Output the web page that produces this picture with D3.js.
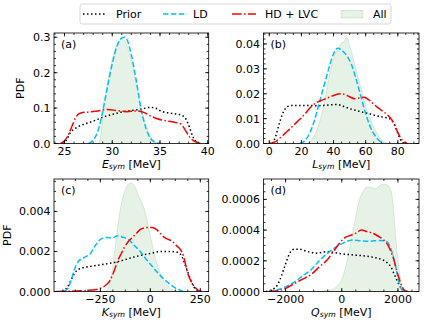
<!DOCTYPE html>
<html><head><meta charset="utf-8">
<script src="https://cdn.jsdelivr.net/npm/d3@7"></script>
<style>body{margin:0;background:#fff}svg{display:block;font-family:"DejaVu Sans",sans-serif}</style>
</head><body><svg id="c" width="432" height="324"></svg>
<script>
// ---------- DATA ----------
const seriesNames = ["Prior", "LD", "HD + LVC", "All"];
// Panel (a) E_sym
const esymPrior = [[24.8,0],[25.2,0.01],[25.6,0.03],[26.2,0.044],[27,0.054],[28,0.063],[29,0.074],[30,0.082],[31,0.089],[32,0.093],[33,0.097],[34,0.102],[34.5,0.1],[35,0.093],[35.5,0.088],[36,0.086],[36.5,0.084],[37,0.082],[37.4,0.078],[37.8,0.065],[38.1,0.045],[38.4,0.022],[38.7,0.008],[39.1,0]];
const esymLD = [[27.5,0],[28,0.01],[28.5,0.035],[29,0.09],[29.5,0.16],[30,0.225],[30.5,0.275],[31,0.298],[31.3,0.3],[31.6,0.29],[32,0.25],[32.5,0.18],[33,0.1],[33.5,0.045],[34,0.015],[34.5,0.003],[35,0]];
const esymHD = [[24.6,0],[25,0.008],[25.4,0.025],[25.8,0.05],[26.2,0.075],[26.7,0.086],[27.5,0.089],[28.5,0.092],[29.5,0.096],[30.5,0.093],[31.5,0.09],[32.5,0.092],[33.3,0.088],[34,0.078],[34.7,0.07],[35.5,0.065],[36.5,0.06],[37.2,0.055],[37.6,0.04],[38,0.022],[38.5,0.008],[39,0.002],[39.4,0]];
const esymAll = [[28.6,0],[28.9,0.05],[29.05,0.1],[29.35,0.15],[29.7,0.2],[30.1,0.25],[30.5,0.28],[31,0.294],[31.3,0.29],[31.7,0.265],[32,0.235],[32.5,0.17],[33,0.105],[33.5,0.055],[34,0.02],[34.5,0.005],[35,0]];
// Panel (b) L_sym
const lsymPrior = [[2,0],[4,0.003],[6,0.0075],[8,0.0115],[10,0.014],[12,0.015],[14,0.0153],[20,0.0153],[30,0.0152],[38,0.0155],[42,0.0157],[46,0.015],[50,0.014],[54,0.0133],[58,0.0126],[62,0.012],[66,0.0113],[70,0.0107],[74,0.0102],[76,0.0095],[78,0.0075],[80,0.004],[82,0.0012],[84,0]];
const lsymLD = [[19,0],[22,0.001],[25,0.004],[28,0.009],[31,0.016],[34,0.023],[37,0.03],[40,0.036],[42.5,0.0383],[45,0.0375],[48,0.0355],[51,0.032],[54,0.026],[57,0.019],[60,0.012],[63,0.0065],[66,0.003],[69,0.0008],[71,0]];
const lsymHD = [[0,0],[3,0.0005],[5,0.0013],[8,0.003],[11,0.0048],[14,0.0066],[17,0.0085],[20,0.0104],[23,0.0125],[26,0.0148],[29,0.0163],[32,0.0172],[35,0.018],[38,0.0188],[41,0.0195],[44,0.02],[47,0.0197],[50,0.0188],[53,0.018],[56,0.0183],[59,0.0186],[62,0.0175],[65,0.0158],[68,0.0142],[71,0.0128],[74,0.0112],[76,0.0098],[78,0.0075],[80,0.0045],[82,0.002],[84,0.0006],[86,0]];
const lsymAll = [[24,0],[27,0.002],[30,0.006],[33,0.013],[35,0.019],[37,0.026],[39,0.032],[41,0.036],[43,0.038],[45,0.0405],[46.5,0.041],[48,0.0425],[49,0.042],[50,0.0395],[52,0.035],[54,0.0295],[56,0.025],[58,0.02],[60,0.0155],[62,0.0115],[64,0.008],[66,0.0055],[68,0.0032],[70,0.0015],[72,0.0005],[74,0]];
// Panel (c) K_sym
const ksymPrior = [[-440,0],[-425,0.0001],[-410,0.0003],[-395,0.0006],[-380,0.0009],[-360,0.0011],[-330,0.0012],[-290,0.00127],[-250,0.00133],[-210,0.0014],[-170,0.00147],[-130,0.00158],[-90,0.0017],[-50,0.0018],[0,0.0019],[50,0.002],[100,0.002],[140,0.00195],[160,0.0017],[175,0.0013],[190,0.0009],[205,0.0005],[220,0.0002],[235,0.00005],[250,0]];
const ksymLD = [[-430,0],[-410,0.0002],[-395,0.0006],[-380,0.0011],[-360,0.0015],[-330,0.0017],[-300,0.0019],[-275,0.0023],[-250,0.0026],[-220,0.0027],[-190,0.00268],[-165,0.00278],[-140,0.00272],[-110,0.0026],[-80,0.0023],[-50,0.002],[-20,0.0016],[10,0.00125],[40,0.0009],[70,0.0006],[100,0.00035],[130,0.00015],[160,0.00003],[180,0]];
const ksymHD = [[-470,0],[-400,0.00002],[-320,0.00005],[-270,0.0001],[-245,0.00018],[-225,0.0003],[-205,0.0005],[-190,0.0008],[-175,0.0012],[-160,0.0016],[-145,0.0019],[-130,0.0022],[-110,0.0025],[-90,0.0027],[-70,0.0029],[-50,0.0031],[-30,0.00318],[-10,0.0032],[10,0.0032],[30,0.0031],[50,0.0029],[70,0.0027],[90,0.0026],[110,0.0025],[130,0.0023],[150,0.0021],[165,0.0018],[175,0.0014],[185,0.001],[195,0.0007],[210,0.0004],[225,0.0002],[240,0.00006],[260,0]];
const ksymAll = [[-225,0],[-210,0.0002],[-195,0.0008],[-180,0.0019],[-165,0.0031],[-150,0.0041],[-135,0.0048],[-120,0.0052],[-105,0.0054],[-90,0.0054],[-75,0.0052],[-60,0.0048],[-45,0.0045],[-30,0.0041],[-15,0.0035],[0,0.0028],[15,0.0021],[30,0.0015],[50,0.0009],[70,0.0005],[90,0.00025],[110,0.0001],[130,0.00003],[150,0]];
// Panel (d) Q_sym
const qsymPrior = [[-2700,0],[-2500,0.00001],[-2300,0.00004],[-2150,0.0001],[-2000,0.00018],[-1850,0.00025],[-1700,0.000275],[-1500,0.000275],[-1300,0.000265],[-1100,0.000255],[-900,0.00025],[-700,0.000255],[-500,0.00026],[-300,0.000255],[0,0.000245],[300,0.00024],[600,0.000235],[900,0.00023],[1200,0.00022],[1400,0.00021],[1600,0.00019],[1750,0.00016],[1850,0.00012],[1950,0.00008],[2050,0.00004],[2200,0.00001],[2350,0]];
const qsymLD = [[-2600,0],[-2300,0.00001],[-2000,0.00003],[-1700,0.00006],[-1400,0.0001],[-1100,0.00014],[-800,0.0002],[-500,0.00025],[-200,0.00029],[100,0.00032],[400,0.000335],[700,0.00033],[1000,0.000328],[1300,0.000332],[1550,0.00033],[1700,0.0003],[1800,0.00025],[1900,0.00018],[1970,0.00012],[2050,0.00005],[2150,0.00001],[2250,0]];
const qsymHD = [[-2600,0],[-2300,0.000005],[-2000,0.00002],[-1700,0.00005],[-1400,0.00008],[-1100,0.00011],[-800,0.00016],[-500,0.00021],[-300,0.00026],[-100,0.00031],[100,0.00035],[300,0.000365],[500,0.00038],[700,0.0004],[900,0.00039],[1100,0.00038],[1300,0.00036],[1500,0.000335],[1650,0.0003],[1750,0.00026],[1850,0.00021],[1950,0.00014],[2050,0.00008],[2150,0.00003],[2250,0.000005],[2350,0]];
const qsymAll = [[-900,0],[-600,0.000005],[-400,0.00001],[-200,0.00003],[0,0.00008],[150,0.00017],[300,0.0003],[450,0.00044],[600,0.00058],[750,0.00065],[900,0.00068],[1050,0.00068],[1200,0.00067],[1350,0.00069],[1500,0.0007],[1650,0.00069],[1750,0.00066],[1820,0.00058],[1880,0.00045],[1950,0.0003],[2030,0.00016],[2100,0.00007],[2200,0.00001],[2250,0]];
// Tick labels
const esymTicks = [25, 30, 35, 40];
const lsymTicks = [0, 20, 40, 60, 80];
const ksymTicks = [-250, 0, 250];
const qsymTicks = [-2000, 0, 2000];
const pdfTicksA = [0, 0.1, 0.2, 0.3];
const pdfTicksB = [0, 0.01, 0.02, 0.03, 0.04];
const pdfTicksC = [0, 0.002, 0.004];
const pdfTicksD = [0, 0.0002, 0.0004, 0.0006];
const panelLabels = ["(a)", "(b)", "(c)", "(d)"];
const axisSymbols = [["E","sym"],["L","sym"],["K","sym"],["Q","sym"]];

// ---------- LAYOUT ----------
const svg = d3.select("#c");
const colors = {prior:"#000000", ld:"#00bfff", hd:"#ff0000", allFill:"rgba(0,128,0,0.1)"};
const FS = 11;
const panels = [
  {x0:54, x1:208.7, y0:33, y1:143.5, xd:[23.9,40.1], yd:[0,0.312], xt:esymTicks, xm:1, yt:pdfTicksA, ym:0.02, yf:1, data:[esymPrior,esymLD,esymHD,esymAll], ylab:true},
  {x0:263.5, x1:419, y0:33, y1:143.5, xd:[-3.6,93.2], yd:[0,0.0444], xt:lsymTicks, xm:5, yt:pdfTicksB, ym:0.002, yf:2, data:[lsymPrior,lsymLD,lsymHD,lsymAll], ylab:false},
  {x0:54, x1:208.7, y0:179, y1:291.5, xd:[-482,292], yd:[0,0.00562], xt:ksymTicks, xm:62.5, yt:pdfTicksC, ym:0.0005, yf:3, data:[ksymPrior,ksymLD,ksymHD,ksymAll], ylab:true},
  {x0:263.5, x1:419, y0:179, y1:291.5, xd:[-2786,2750], yd:[0,0.000733], xt:qsymTicks, xm:500, yt:pdfTicksD, ym:0.00005, yf:4, data:[qsymPrior,qsymLD,qsymHD,qsymAll], ylab:false}
];
const fmtNum = v => (v<0 ? "\u2212" + Math.abs(v) : String(v));

panels.forEach((p, i) => {
  const x = d3.scaleLinear().domain(p.xd).range([p.x0, p.x1]);
  const y = d3.scaleLinear().domain(p.yd).range([p.y1, p.y0]);
  const g = svg.append("g");
  const clipId = "clip" + i;
  g.append("clipPath").attr("id", clipId).append("rect")
    .attr("x", p.x0).attr("y", p.y0).attr("width", p.x1 - p.x0).attr("height", p.y1 - p.y0);
  const plot = g.append("g").attr("clip-path", `url(#${clipId})`);
  const line = d3.line().x(d => x(d[0])).y(d => y(d[1])).curve(d3.curveMonotoneX);
  const area = d3.area().x(d => x(d[0])).y0(y(0)).y1(d => y(d[1])).curve(d3.curveMonotoneX);
  const [prior, ld, hd, all] = p.data;
  plot.append("path").datum(all).attr("d", area).attr("fill", colors.allFill)
    .attr("stroke", "rgba(0,128,0,0.12)").attr("stroke-width", 1);
  plot.append("path").datum(prior).attr("d", line).attr("fill", "none").attr("stroke", colors.prior)
    .attr("stroke-width", 1.5).attr("stroke-dasharray", "1.5,2.5");
  plot.append("path").datum(ld).attr("d", line).attr("fill", "none").attr("stroke", colors.ld)
    .attr("stroke-width", 1.5).attr("stroke-dasharray", "5.5,2.4");
  plot.append("path").datum(hd).attr("d", line).attr("fill", "none").attr("stroke", colors.hd)
    .attr("stroke-width", 1.5).attr("stroke-dasharray", "9.6,2.4,1.5,2.4");

  // frame
  g.append("rect").attr("x", p.x0).attr("y", p.y0).attr("width", p.x1 - p.x0).attr("height", p.y1 - p.y0)
    .attr("fill", "none").attr("stroke", "#000").attr("stroke-width", 0.8);

  // ticks inward all sides
  const tk = g.append("g").attr("stroke", "#000").attr("stroke-width", 0.8);
  const xMinor = d3.range(Math.ceil(p.xd[0] / p.xm) * p.xm, p.xd[1] + 1e-9, p.xm);
  const yMinor = d3.range(0, p.yd[1] + 1e-12, p.ym);
  xMinor.forEach(v => {
    const X = x(v);
    tk.append("line").attr("x1", X).attr("x2", X).attr("y1", p.y1).attr("y2", p.y1 - 2);
    tk.append("line").attr("x1", X).attr("x2", X).attr("y1", p.y0).attr("y2", p.y0 + 2);
  });
  yMinor.forEach(v => {
    const Y = y(v);
    tk.append("line").attr("x1", p.x0).attr("x2", p.x0 + 2).attr("y1", Y).attr("y2", Y);
    tk.append("line").attr("x1", p.x1).attr("x2", p.x1 - 2).attr("y1", Y).attr("y2", Y);
  });
  p.xt.forEach(v => {
    const X = x(v);
    tk.append("line").attr("x1", X).attr("x2", X).attr("y1", p.y1).attr("y2", p.y1 - 3.5);
    tk.append("line").attr("x1", X).attr("x2", X).attr("y1", p.y0).attr("y2", p.y0 + 3.5);
    g.append("text").attr("x", X).attr("y", p.y1 + 11).attr("text-anchor", "middle")
      .attr("font-size", FS).attr("fill", "#000").text(fmtNum(v));
  });
  p.yt.forEach(v => {
    const Y = y(v);
    tk.append("line").attr("x1", p.x0).attr("x2", p.x0 + 3.5).attr("y1", Y).attr("y2", Y);
    tk.append("line").attr("x1", p.x1).attr("x2", p.x1 - 3.5).attr("y1", Y).attr("y2", Y);
    g.append("text").attr("x", p.x0 - 3.5).attr("y", Y + 4).attr("text-anchor", "end")
      .attr("font-size", FS).attr("fill", "#000").text(v.toFixed(p.yf));
  });

  // x label
  const xl = g.append("text").attr("x", (p.x0 + p.x1) / 2).attr("y", p.y1 + 24)
    .attr("text-anchor", "middle").attr("font-size", FS).attr("fill", "#000");
  xl.append("tspan").attr("font-style", "italic").text(axisSymbols[i][0]);
  xl.append("tspan").attr("font-style", "italic").attr("font-size", FS * 0.7).attr("dy", 1.8).text(axisSymbols[i][1]);
  xl.append("tspan").attr("dy", -1.8).text(" [MeV]");

  if (p.ylab) {
    const yw = d3.max(p.yt, v => v.toFixed(p.yf).length);
    const cx = p.x0 - 3.5 - yw * 6.6 - 7;
    g.append("text").attr("transform", `translate(${cx},${(p.y0 + p.y1) / 2}) rotate(-90)`)
      .attr("text-anchor", "middle").attr("font-size", FS).attr("fill", "#000").text("PDF");
  }
  g.append("text").attr("x", p.x0 + 7).attr("y", p.y0 + 15).attr("font-size", FS).attr("fill", "#000").text(panelLabels[i]);
});

// ---------- LEGEND ----------
const lg = svg.append("g");
lg.append("rect").attr("x", 80).attr("y", 4).attr("width", 311).attr("height", 20).attr("rx", 2.5)
  .attr("fill", "rgba(255,255,255,0.8)").attr("stroke", "#cccccc").attr("stroke-width", 0.8);
const legItems = [
  {lx: 83, tx: 116, type: "line", color: colors.prior, dash: "1.5,2.5"},
  {lx: 163, tx: 193, type: "line", color: colors.ld, dash: "5.5,2.4"},
  {lx: 232, tx: 265, type: "line", color: colors.hd, dash: "9.6,2.4,1.5,2.4"},
  {lx: 341, tx: 373, type: "patch"}
];
legItems.forEach((it, k) => {
  if (it.type === "line") {
    lg.append("line").attr("x1", it.lx).attr("x2", it.lx + 24).attr("y1", 14).attr("y2", 14)
      .attr("stroke", it.color).attr("stroke-width", 1.5).attr("stroke-dasharray", it.dash);
  } else {
    lg.append("rect").attr("x", it.lx).attr("y", 10.5).attr("width", 22).attr("height", 7.5)
      .attr("fill", colors.allFill).attr("stroke", "rgba(0,128,0,0.12)");
  }
  lg.append("text").attr("x", it.tx).attr("y", 18).attr("font-size", FS).attr("fill", "#000").text(seriesNames[k]);
});
</script></body></html>
